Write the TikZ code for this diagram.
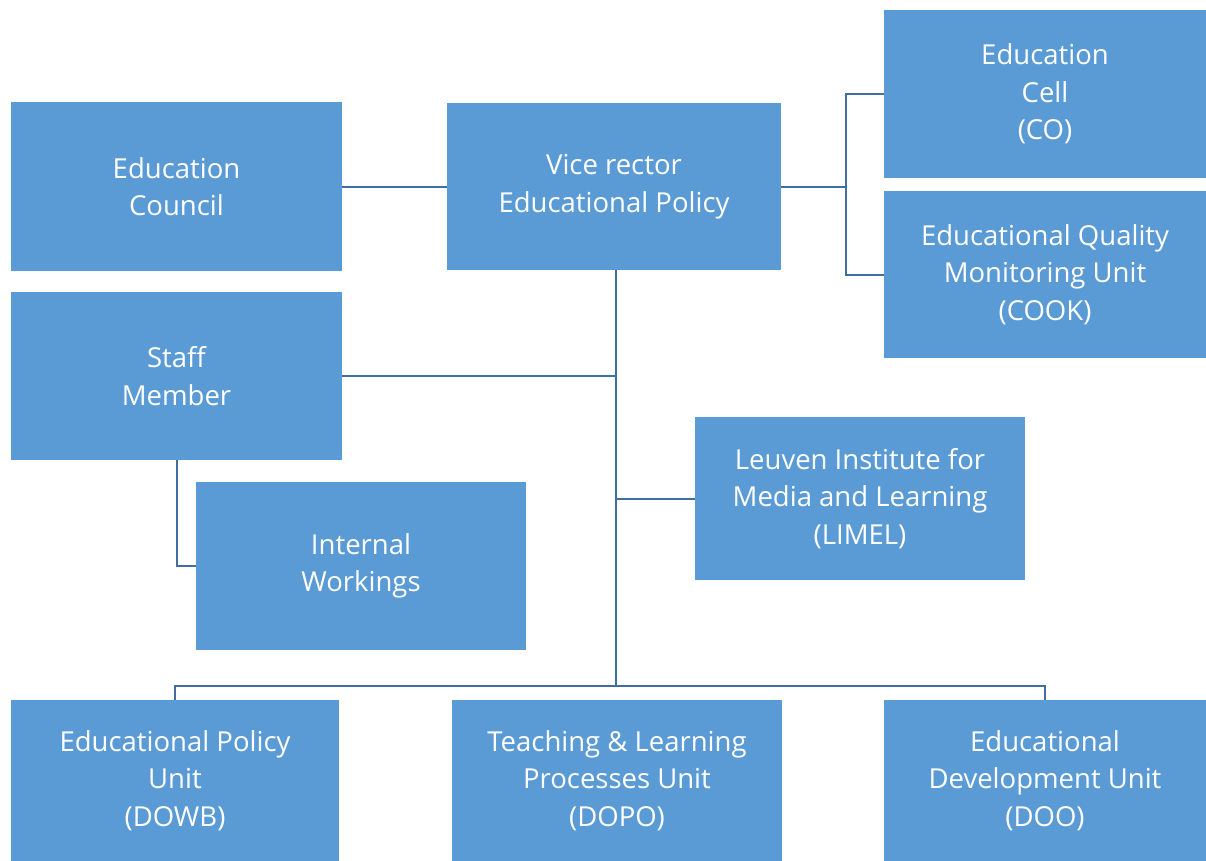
\documentclass[tikz,border=0pt]{standalone}
\usepackage{fontspec}
\setmainfont{Open Sans}
\definecolor{boxfill}{HTML}{5B9BD5}
\definecolor{linecol}{HTML}{3F6FA0}
\begin{document}
\begin{tikzpicture}[x=1pt,y=-1pt,
  box/.style={fill=boxfill, draw=none, text=white, align=center, inner sep=0pt,
    font=\fontsize{27.5}{37.5}\selectfont},
  conn/.style={draw=linecol, line width=2pt}]
\useasboundingbox[fill=white] (0,0) rectangle (1206,861);
\node[box, minimum width=331, minimum height=168] (ec) at (176.5,186.5) {Education\\Council};
\node[box, minimum width=334, minimum height=167] (vr) at (614,186.5) {Vice rector\\Educational Policy};
\node[box, minimum width=322, minimum height=168] (cell) at (1045,94) {Education\\Cell\\(CO)};
\node[box, minimum width=322, minimum height=167] (eqmu) at (1045,274.5) {Educational Quality\\Monitoring Unit\\(COOK)};
\node[box, minimum width=331, minimum height=168] (staff) at (176.5,376) {Staff\\Member};
\node[box, minimum width=330, minimum height=163] (limel) at (860,498.5) {Leuven Institute for\\Media and Learning\\(LIMEL)};
\node[box, minimum width=330, minimum height=168] (iw) at (361,566) {Internal\\Workings};
\node[box, minimum width=328, minimum height=161] (epu) at (175,780.5) {Educational Policy\\Unit\\(DOWB)};
\node[box, minimum width=330, minimum height=161] (tlp) at (617,780.5) {Teaching \& Learning\\Processes Unit\\(DOPO)};
\node[box, minimum width=322, minimum height=161] (edu) at (1045,780.5) {Educational\\Development Unit\\(DOO)};
\coordinate (j1) at (846,186.5);
\coordinate (bus) at (616,686);
\coordinate (top) at (616,270);
\draw[conn] (ec.east) -- (vr.west);
\draw[conn] (vr.east) -- (j1);
\draw[conn] (cell.west) -| (j1) |- (eqmu.west);
\draw[conn] (top) -- (bus);
\draw[conn] (staff.east) -- (staff.east -| top);
\draw[conn] (limel.west) -- (limel.west -| top);
\draw[conn] (staff.south) |- (iw.west);
\draw[conn] (epu.north) |- (bus) -| (edu.north);
\end{tikzpicture}
\end{document}
